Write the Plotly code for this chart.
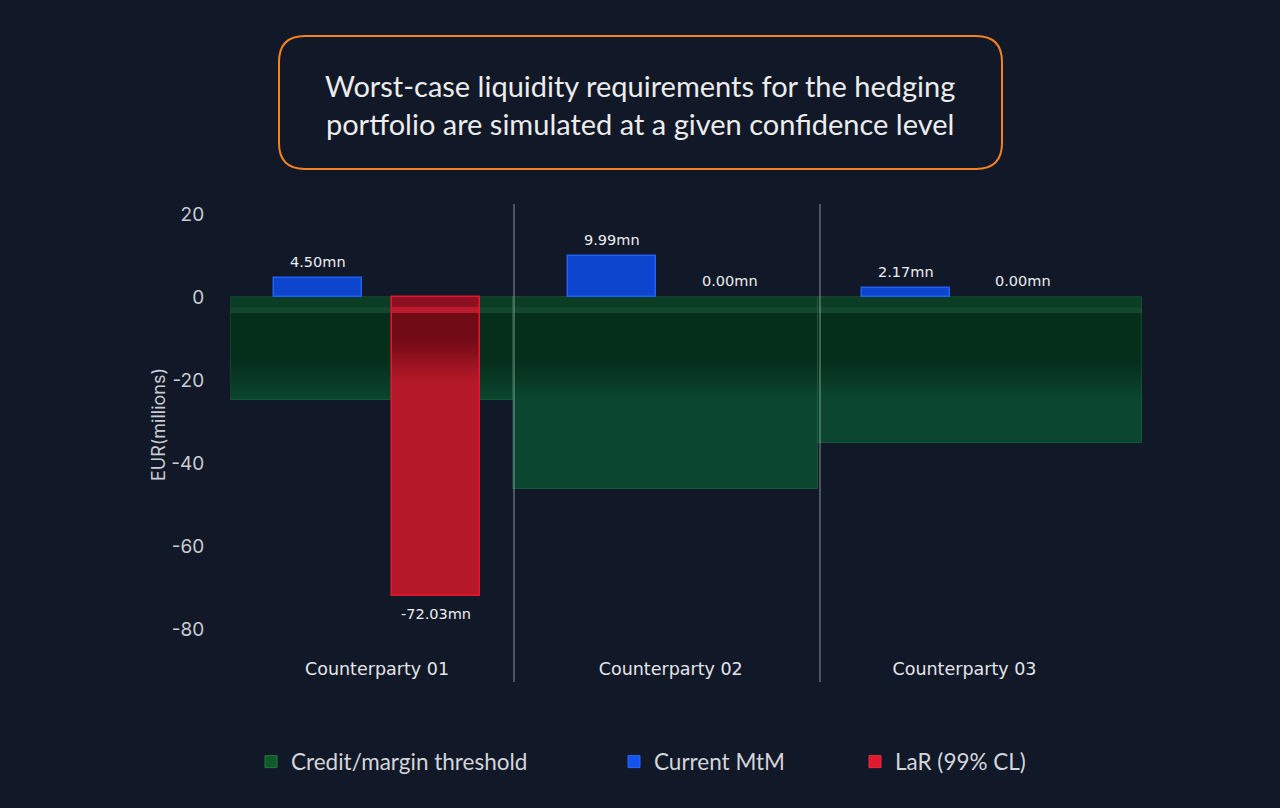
import plotly.graph_objects as go

# ---------------- data ----------------
categories = ["Counterparty 01", "Counterparty 02", "Counterparty 03"]
threshold = [-24.8, -46.2, -35.2]      # Credit/margin threshold
mtm = [4.50, 9.99, 2.17]               # Current MtM
lar = [-72.03, 0.00, 0.00]             # LaR (99% CL)
y_ticks = [20, 0, -20, -40, -60, -80]
series_names = ["Credit/margin threshold", "Current MtM", "LaR (99% CL)"]
title_lines = ["Worst-case liquidity requirements for the hedging",
               "portfolio are simulated at a given confidence level"]
y_title = "EUR(millions)"

# ---------------- layout constants ----------------
W, H = 1280, 808
L, T, PW, PH = 220, 204, 930, 441
X_RANGE = [-0.5345, 2.6315]
Y_RANGE = [-83.86, 22.41]
BG = "#111827"
xs = list(range(len(categories)))

# per-category threshold bar geometry (axis units)
green_offset = [-0.497, -0.537, -0.4987]
green_width = [0.960, 1.038, 1.103]
bar_w = 0.30
blue_off = -0.35
red_off = 0.05
separators = [0.4664, 1.508]


def hx(c):
    c = c.lstrip("#")
    return [int(c[i:i + 2], 16) for i in (0, 2, 4)]


def mix(a, b, t):
    a, b = hx(a), hx(b)
    return "rgb(%d,%d,%d)" % tuple(round(a[i] + (b[i] - a[i]) * t) for i in range(3))


def smooth(t):
    t = max(0.0, min(1.0, t))
    return t * t * (3 - 2 * t)


def make_color_fn(b1, b2, g0, g1, start, span):
    def fn(top, bottom):
        d = -(top + bottom) / 2.0
        if -top < 2.5 - 1e-9 and -bottom <= 2.5 + 1e-9:
            return b1
        if -top < 3.9 - 1e-9 and -bottom <= 3.9 + 1e-9:
            return b2
        return mix(g0, g1, smooth((d - start) / span))
    return fn


green_fn = make_color_fn("#0c3d25", "#13482f", "#052e1b", "#0a4630", 14, 12)
red_fn = make_color_fn("#8e1121", "#bb1b2c", "#700a15", "#b51828", 8, 14)


def band_bounds(end):
    b = [0.0, -2.5, -3.9]
    v = -3.9
    while v > -end:
        v = max(v - 0.5, -end)
        b.append(v)
    return b


def slices(values, offsets, widths, color_fn, grad_end):
    bx, bbase, by, bw, bo, bc = [], [], [], [], [], []
    bounds = band_bounds(grad_end)
    for i, v in enumerate(values):
        if v >= 0:
            continue
        for a, b in zip(bounds[:-1], bounds[1:]):
            top = a
            bottom = max(b, v)
            if bottom >= top:
                break
            ext = max(bottom - 0.3, v)
            bx.append(xs[i])
            bbase.append(top)
            by.append(ext - top)
            bw.append(widths[i])
            bo.append(offsets[i])
            bc.append(color_fn(top, bottom))
    return go.Bar(x=bx, y=by, base=bbase, width=bw, offset=bo,
                  marker=dict(color=bc, line=dict(width=0)),
                  showlegend=False, hoverinfo="skip")


fig = go.Figure()

# ---- threshold (green) ----
fig.add_trace(go.Bar(x=xs, y=threshold, width=green_width, offset=green_offset,
                     marker=dict(color="#0a4630", line=dict(width=0)),
                     showlegend=False, hoverinfo="skip"))
fig.add_trace(slices(threshold, green_offset, green_width, green_fn, 27))
fig.add_trace(go.Bar(x=xs, y=threshold, width=green_width, offset=green_offset,
                     marker=dict(color="rgba(0,0,0,0)",
                                 line=dict(width=1, color="rgba(30,110,55,0.45)")),
                     showlegend=False, name=series_names[0]))

# ---- current MtM (blue) ----
fig.add_trace(go.Bar(x=xs, y=mtm, width=[bar_w] * 3, offset=[blue_off] * 3,
                     marker=dict(color="#0d45cf", line=dict(width=1.5, color="#2060f5")),
                     showlegend=False, name=series_names[1]))

# ---- LaR (red) ----
lar_draw = [v if v != 0 else None for v in lar]
fig.add_trace(go.Bar(x=xs, y=lar_draw, width=[bar_w] * 3, offset=[red_off] * 3,
                     marker=dict(color="#b51828", line=dict(width=0)),
                     showlegend=False, hoverinfo="skip"))
fig.add_trace(slices(lar, [red_off] * 3, [bar_w] * 3, red_fn, 23))
fig.add_trace(go.Bar(x=xs, y=lar_draw, width=[bar_w] * 3, offset=[red_off] * 3,
                     marker=dict(color="rgba(0,0,0,0)", line=dict(width=1.5, color="#e3182e")),
                     showlegend=False, name=series_names[2]))

# ---- legend-only entries, each in its own legend ----
leg_colors = [("#115a2b", "#1f7a3a"), ("#1553ee", "#2a66ff"), ("#df1a2f", "#f0283c")]
leg_keys = ["legend", "legend2", "legend3"]
for name, (c, lc), key in zip(series_names, leg_colors, leg_keys):
    fig.add_trace(go.Bar(x=[None], y=[None], name=name, legend=key,
                         marker=dict(color=c, line=dict(width=1, color=lc)),
                         showlegend=True))

# ---- value labels ----
def fmt(v):
    return "%.2fmn" % v

annots = []
label_font = dict(family="DejaVu Sans", size=14.5, color="#eceef2")
for i, v in enumerate(mtm):
    annots.append(dict(x=xs[i] + blue_off + bar_w / 2, y=v, xref="x", yref="y",
                       text=fmt(v), showarrow=False, yanchor="middle",
                       yshift=16 if v >= 0 else -18, font=label_font))
for i, v in enumerate(lar):
    annots.append(dict(x=xs[i] + red_off + bar_w / 2, y=v, xref="x", yref="y",
                       text=fmt(v), showarrow=False, yanchor="middle",
                       yshift=16 if v >= 0 else -18, font=label_font))

# ---- title box ----
def pxx(p):
    return (p - L) / PW


def pxy(p):
    return (T + PH - p) / PH


bx0, bx1, by0, by1, r = 279, 1002, 36, 169, 26
pts = [
    ("M", [(bx0 + r, by0)]),
    ("L", [(bx1 - r, by0)]),
    ("Q", [(bx1, by0), (bx1, by0 + r)]),
    ("L", [(bx1, by1 - r)]),
    ("Q", [(bx1, by1), (bx1 - r, by1)]),
    ("L", [(bx0 + r, by1)]),
    ("Q", [(bx0, by1), (bx0, by1 - r)]),
    ("L", [(bx0, by0 + r)]),
    ("Q", [(bx0, by0), (bx0 + r, by0)]),
]
path = " ".join(cmd + " " + " ".join("%.5f,%.5f" % (pxx(a), pxy(b)) for a, b in p)
                for cmd, p in pts) + " Z"

shapes = [dict(type="path", xref="paper", yref="paper", path=path,
               line=dict(color="#f5821f", width=2), fillcolor="rgba(0,0,0,0)", layer="above")]

annots.append(dict(x=pxx(639.5), y=pxy(104.5), xref="paper", yref="paper",
                   text="<br>".join(title_lines), showarrow=False,
                   xanchor="center", yanchor="middle", align="center",
                   font=dict(family="Lato", size=29, color="#ececec")))

# ---- separators ----
def ax2paper(v):
    return (v - X_RANGE[0]) / (X_RANGE[1] - X_RANGE[0])

for s in separators:
    shapes.append(dict(type="line", xref="paper", yref="paper",
                       x0=ax2paper(s), x1=ax2paper(s), y0=pxy(682), y1=1,
                       line=dict(color="rgba(190,195,205,0.35)", width=2), layer="above"))

leg_font = dict(family="Lato", size=22.5, color="#d4d5da")
leg_common = dict(orientation="h", xanchor="left", yanchor="middle",
                  bgcolor="rgba(0,0,0,0)", font=leg_font, xref="paper", yref="paper")

fig.update_layout(
    width=W, height=H,
    margin=dict(l=L, r=W - L - PW, t=T, b=H - T - PH),
    paper_bgcolor=BG, plot_bgcolor=BG,
    barmode="overlay", bargap=0,
    showlegend=True,
    legend=dict(x=pxx(251), y=pxy(762), **leg_common),
    legend2=dict(x=pxx(614), y=pxy(762), **leg_common),
    legend3=dict(x=pxx(855), y=pxy(762), **leg_common),
    xaxis=dict(range=X_RANGE, tickvals=xs, ticktext=categories,
               showgrid=False, zeroline=False, showline=False,
               ticks="outside", ticklen=8, tickcolor="rgba(0,0,0,0)",
               tickfont=dict(family="DejaVu Sans", size=17.5, color="#e4e5ea")),
    yaxis=dict(range=Y_RANGE, tickvals=y_ticks, ticktext=[str(t) for t in y_ticks],
               showgrid=False, zeroline=False, showline=False,
               ticks="outside", ticklen=11, tickcolor="rgba(0,0,0,0)",
               tickfont=dict(family="Inter", size=19, color="#c9ccd4"),
               title=dict(text=y_title, standoff=0,
                          font=dict(family="Inter", size=18, color="#c9ccd4"))),
    annotations=annots,
    shapes=shapes,
    hovermode=False,
)

fig.write_html("out.html")
